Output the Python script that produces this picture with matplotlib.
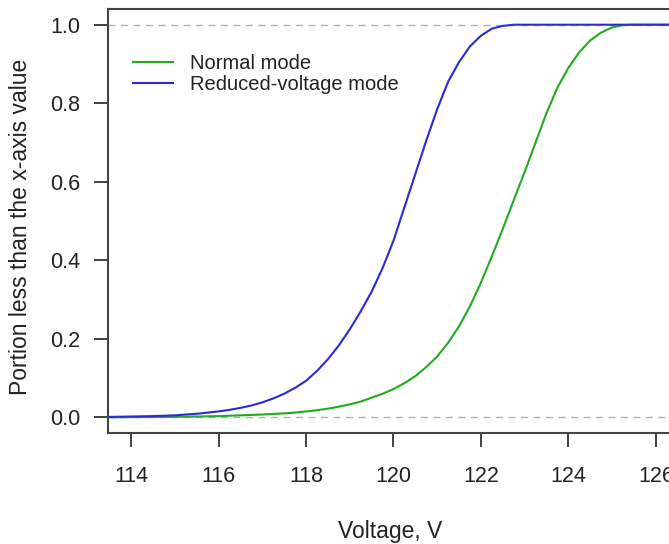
import matplotlib
matplotlib.use('Agg')
import matplotlib.pyplot as plt

# Voltage grid (V) and cumulative portions
voltage = [113.5, 113.75, 114.0, 114.25, 114.5, 114.75, 115.0, 115.25, 115.5, 115.75,
           116.0, 116.25, 116.5, 116.75, 117.0, 117.25, 117.5, 117.75, 118.0, 118.25,
           118.5, 118.75, 119.0, 119.25, 119.5, 119.75, 120.0, 120.25, 120.5, 120.75,
           121.0, 121.25, 121.5, 121.75, 122.0, 122.25, 122.5, 122.75, 123.0, 123.25,
           123.5, 123.75, 124.0, 124.25, 124.5, 124.75, 125.0, 125.25, 125.5, 125.75,
           126.0, 126.25, 126.5]

normal_mode = [0.0, 0.0, 0.0005, 0.0006, 0.0008, 0.001, 0.0012, 0.0015, 0.002, 0.0025,
               0.003, 0.004, 0.005, 0.006, 0.007, 0.0085, 0.010, 0.012, 0.015, 0.018,
               0.022, 0.027, 0.033, 0.040, 0.050, 0.060, 0.072, 0.087, 0.105, 0.128,
               0.155, 0.190, 0.232, 0.283, 0.343, 0.41, 0.48, 0.553, 0.625, 0.70,
               0.775, 0.84, 0.89, 0.93, 0.96, 0.98, 0.993, 0.999, 1.0, 1.0,
               1.0, 1.0, 1.0]

reduced_mode = [0.001, 0.0015, 0.002, 0.0025, 0.003, 0.004, 0.005, 0.007, 0.009, 0.012,
                0.015, 0.019, 0.024, 0.030, 0.038, 0.048, 0.060, 0.075, 0.093, 0.118,
                0.148, 0.183, 0.224, 0.27, 0.32, 0.38, 0.45, 0.535, 0.62, 0.705,
                0.785, 0.855, 0.905, 0.945, 0.972, 0.99, 0.997, 1.0, 1.0, 1.0,
                1.0, 1.0, 1.0, 1.0, 1.0, 1.0, 1.0, 1.0, 1.0, 1.0,
                1.0, 1.0, 1.0]

x_ticks = [114, 116, 118, 120, 122, 124, 126]
y_ticks = [0.0, 0.2, 0.4, 0.6, 0.8, 1.0]

plt.rcParams['font.family'] = ['Liberation Sans', 'DejaVu Sans']
text_color = '#222222'

fig = plt.figure(figsize=(6.69, 5.44), dpi=100)
# axes box runs a little past the right edge, as in the reference
ax = fig.add_axes([108 / 669, 111 / 544, 564 / 669, 424 / 544])

# reference lines at 0 and 1
for level in (0.0, 1.0):
    ax.axhline(level, color='#b0b0b0', linestyle=(0, (5, 4)), linewidth=1.0, zorder=1)

ax.plot(voltage, normal_mode, color='#22aa22', linewidth=1.5, label='Normal mode', zorder=3)
ax.plot(voltage, reduced_mode, color='#2b2bd6', linewidth=1.5, label='Reduced-voltage mode', zorder=3)

ax.set_xlim(113.47, 126.37)
ax.set_ylim(-0.04, 1.04)

ax.set_xticks(x_ticks)
ax.set_xticklabels([str(t) for t in x_ticks])
ax.set_yticks(y_ticks)
ax.set_yticklabels([f'{t:.1f}' for t in y_ticks])

for side in ax.spines.values():
    side.set_color('#444444')
    side.set_linewidth(1.5)

ax.tick_params(axis='x', direction='out', length=10, width=1.3, color='#333333',
               pad=13.5, labelsize=15.5, labelcolor=text_color)
ax.tick_params(axis='y', direction='out', length=10, width=1.3, color='#333333',
               pad=10, labelsize=15.5, labelcolor=text_color)

ax.set_xlabel('Voltage, V', fontsize=16.5, color=text_color, labelpad=24)
ax.set_ylabel('Portion less than the x-axis value', fontsize=16.5, color=text_color)
ax.yaxis.set_label_coords(-0.135, 0.485)

ax.legend(loc='upper left', bbox_to_anchor=(0.044, 0.894), frameon=False,
          fontsize=14.5, handlelength=2.0, handletextpad=0.85, labelspacing=0.08,
          borderpad=0, borderaxespad=0, labelcolor=text_color)

fig.savefig('out.png', dpi=100)
